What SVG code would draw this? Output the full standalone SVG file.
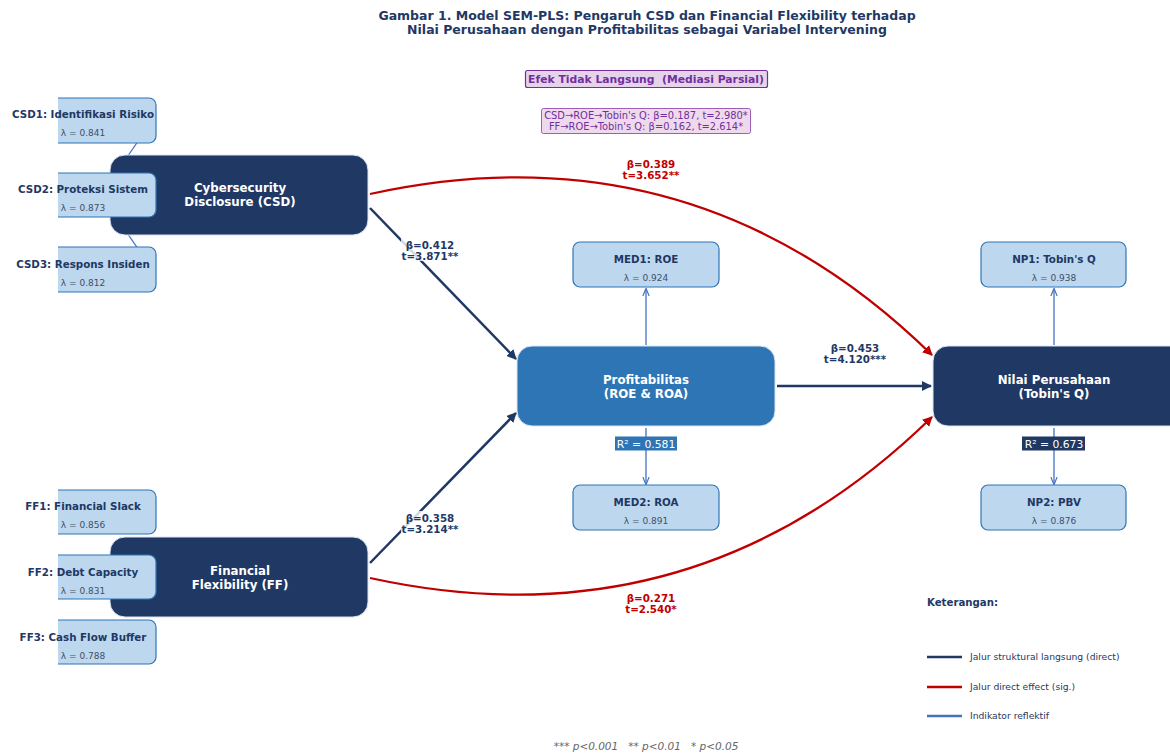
<svg xmlns="http://www.w3.org/2000/svg" width="1170" height="753" viewBox="0 0 1170 753">
<style>
text{font-family:"DejaVu Sans","Liberation Sans",sans-serif}
.title{font-size:12.5px;font-weight:bold;fill:#1f3864;text-anchor:middle}
.ind{fill:#bdd7ee;stroke:#2e75b6;stroke-width:1.2}
.indt{font-size:10.3px;font-weight:bold;fill:#1f3864;text-anchor:middle}
.lam{font-size:9px;fill:#404f66;text-anchor:middle}
.lat{stroke:#dae3f3;stroke-width:1}
.latt{font-size:11.8px;font-weight:bold;fill:#ffffff;text-anchor:middle}
.str{stroke:#1f3864;stroke-width:2.5;fill:none}
.red{stroke:#c00000;stroke-width:2.3;fill:none}
.refl{stroke:#4472c4;stroke-width:1.3;fill:none}
.lbl{font-size:10.3px;font-weight:bold;fill:#1f3864;text-anchor:middle}
.rlbl{font-size:10.3px;font-weight:bold;fill:#c00000;text-anchor:middle}
.pur{fill:#7030a0}
.leg{font-size:9.2px;fill:#1f3864}
</style>
<defs>
<marker id="an" viewBox="0 0 10 10" refX="9" refY="5" markerWidth="4" markerHeight="4" orient="auto" markerUnits="strokeWidth"><path d="M0,0 L10,5 L0,10 z" fill="#1f3864"/></marker>
<marker id="ar" viewBox="0 0 10 10" refX="9" refY="5" markerWidth="4.4" markerHeight="4.4" orient="auto" markerUnits="strokeWidth"><path d="M0,0 L10,5 L0,10 z" fill="#c00000"/></marker>
<marker id="ab" viewBox="0 0 10 10" refX="9" refY="5" markerWidth="6" markerHeight="6" orient="auto" markerUnits="strokeWidth"><path d="M0,1 L10,5 L0,9" fill="none" stroke="#4472c4" stroke-width="1.5"/></marker>
<clipPath id="clipL"><rect x="58" y="0" width="200" height="753"/></clipPath>
</defs>
<rect width="1170" height="753" fill="#ffffff"/>

<text class="title" x="647" y="19.5">Gambar 1. Model SEM-PLS: Pengaruh CSD dan Financial Flexibility terhadap</text>
<text class="title" x="647" y="33.5">Nilai Perusahaan dengan Profitabilitas sebagai Variabel Intervening</text>

<g id="connectors">
<line class="refl" x1="123" y1="163" x2="143" y2="134"/>
<line class="refl" x1="123" y1="227" x2="143" y2="256"/>
<path class="str" d="M370,208 L516,359" marker-end="url(#an)"/>
<path class="str" d="M370,563 L516,413" marker-end="url(#an)"/>
<path class="str" d="M777,386 L931,386" marker-end="url(#an)"/>
<path class="red" d="M370,194 Q695,123 932,355" marker-end="url(#ar)"/>
<path class="red" d="M370,578 Q695,649 932,417" marker-end="url(#ar)"/>
<path class="refl" d="M646,345 L646,289" marker-end="url(#ab)"/>
<path class="refl" d="M646,428 L646,484" marker-end="url(#ab)"/>
<path class="refl" d="M1054,345 L1054,289" marker-end="url(#ab)"/>
<path class="refl" d="M1054,428 L1054,484" marker-end="url(#ab)"/>
</g>

<g id="edge-labels">
<rect x="401" y="238" width="58" height="23" fill="#ffffff" fill-opacity="0.8"/>
<text class="lbl" x="430" y="248.5">β=0.412</text>
<text class="lbl" x="430" y="259.5">t=3.871**</text>
<rect x="401" y="511" width="58" height="23" fill="#ffffff" fill-opacity="0.8"/>
<text class="lbl" x="430" y="521.5">β=0.358</text>
<text class="lbl" x="430" y="532.5">t=3.214**</text>
<text class="lbl" x="855" y="351.5">β=0.453</text>
<text class="lbl" x="855" y="362.5">t=4.120***</text>
<text class="rlbl" x="651" y="167.5">β=0.389</text>
<text class="rlbl" x="651" y="178.5">t=3.652**</text>
<text class="rlbl" x="651" y="601.5">β=0.271</text>
<text class="rlbl" x="651" y="612.5">t=2.540*</text>
</g>

<g id="csd">
<rect class="lat" x="110" y="155" width="258" height="80" rx="15" fill="#1f3864"/>
<text class="latt" x="240" y="192">Cybersecurity</text>
<text class="latt" x="240" y="205.5">Disclosure (CSD)</text>
</g>
<g id="ff">
<rect class="lat" x="110" y="537" width="258" height="80" rx="15" fill="#1f3864"/>
<text class="latt" x="240" y="575">Financial</text>
<text class="latt" x="240" y="588.5">Flexibility (FF)</text>
</g>
<g id="profit">
<rect class="lat" x="517" y="346" width="258" height="80" rx="15" fill="#2e75b6"/>
<text class="latt" x="646" y="384">Profitabilitas</text>
<text class="latt" x="646" y="397.5">(ROE &amp; ROA)</text>
</g>
<g id="np">
<rect class="lat" x="933" y="346" width="258" height="80" rx="15" fill="#1f3864"/>
<text class="latt" x="1054" y="384">Nilai Perusahaan</text>
<text class="latt" x="1054" y="397.5">(Tobin's Q)</text>
</g>

<g id="csd1">
<rect class="ind" x="10" y="98" width="146" height="45" rx="7" clip-path="url(#clipL)"/>
<text class="indt" x="83" y="118">CSD1: Identifikasi Risiko</text>
<text class="lam" x="83" y="136">λ = 0.841</text>
</g>
<g id="csd2">
<rect class="ind" x="10" y="173" width="146" height="44" rx="7" clip-path="url(#clipL)"/>
<text class="indt" x="83" y="193">CSD2: Proteksi Sistem</text>
<text class="lam" x="83" y="211">λ = 0.873</text>
</g>
<g id="csd3">
<rect class="ind" x="10" y="247" width="146" height="45" rx="7" clip-path="url(#clipL)"/>
<text class="indt" x="83" y="267.5">CSD3: Respons Insiden</text>
<text class="lam" x="83" y="285.5">λ = 0.812</text>
</g>
<g id="ff1">
<rect class="ind" x="10" y="490" width="146" height="44" rx="7" clip-path="url(#clipL)"/>
<text class="indt" x="83" y="509.5">FF1: Financial Slack</text>
<text class="lam" x="83" y="528">λ = 0.856</text>
</g>
<g id="ff2">
<rect class="ind" x="10" y="555" width="146" height="44" rx="7" clip-path="url(#clipL)"/>
<text class="indt" x="83" y="575.5">FF2: Debt Capacity</text>
<text class="lam" x="83" y="593.5">λ = 0.831</text>
</g>
<g id="ff3">
<rect class="ind" x="10" y="620" width="146" height="44" rx="7" clip-path="url(#clipL)"/>
<text class="indt" x="83" y="640.5">FF3: Cash Flow Buffer</text>
<text class="lam" x="83" y="658.5">λ = 0.788</text>
</g>
<g id="med1">
<rect class="ind" x="573" y="242" width="146" height="45" rx="7"/>
<text class="indt" x="646" y="262.5">MED1: ROE</text>
<text class="lam" x="646" y="281">λ = 0.924</text>
</g>
<g id="med2">
<rect class="ind" x="573" y="485" width="146" height="45" rx="7"/>
<text class="indt" x="646" y="505.5">MED2: ROA</text>
<text class="lam" x="646" y="523.5">λ = 0.891</text>
</g>
<g id="np1">
<rect class="ind" x="981" y="242" width="145" height="45" rx="7"/>
<text class="indt" x="1054" y="262.5">NP1: Tobin's Q</text>
<text class="lam" x="1054" y="281">λ = 0.938</text>
</g>
<g id="np2">
<rect class="ind" x="981" y="485" width="145" height="45" rx="7"/>
<text class="indt" x="1054" y="505.5">NP2: PBV</text>
<text class="lam" x="1054" y="523.5">λ = 0.876</text>
</g>

<g id="r2">
<rect x="615" y="436.5" width="62" height="14" fill="#2e75b6"/>
<text x="646" y="447.5" font-size="10.8" fill="#ffffff" text-anchor="middle">R² = 0.581</text>
<rect x="1022" y="436.5" width="63" height="14" fill="#1f3864"/>
<text x="1054" y="447.5" font-size="10.8" fill="#ffffff" text-anchor="middle">R² = 0.673</text>
</g>

<g id="indirect">
<rect x="525.5" y="70.5" width="242" height="17" rx="2" fill="#e6d3ea" stroke="#7030a0" stroke-width="1.2"/>
<text class="pur" x="646" y="82.5" font-size="10.8" font-weight="bold" text-anchor="middle" xml:space="preserve">Efek Tidak Langsung  (Mediasi Parsial)</text>
<rect x="541.5" y="108.5" width="209" height="25" rx="2" fill="#efd9ec" stroke="#9c5fb5" stroke-width="1"/>
<text class="pur" x="646" y="118.5" font-size="9.9" text-anchor="middle">CSD→ROE→Tobin's Q: β=0.187, t=2.980*</text>
<text class="pur" x="646" y="129.5" font-size="9.9" text-anchor="middle">FF→ROE→Tobin's Q: β=0.162, t=2.614*</text>
</g>

<g id="legend">
<text x="927" y="605.5" font-size="10.2" font-weight="bold" fill="#1f3864">Keterangan:</text>
<line x1="927" y1="657" x2="962" y2="657" stroke="#1f3864" stroke-width="2.5"/>
<text class="leg" x="970" y="660">Jalur struktural langsung (direct)</text>
<line x1="927" y1="687" x2="962" y2="687" stroke="#c00000" stroke-width="2.5"/>
<text class="leg" x="970" y="690">Jalur direct effect (sig.)</text>
<line x1="927" y1="716" x2="962" y2="716" stroke="#4472c4" stroke-width="2.5"/>
<text class="leg" x="970" y="719">Indikator reflektif</text>
</g>

<text x="646" y="750" font-size="10.5" font-style="italic" fill="#666666" text-anchor="middle" xml:space="preserve">*** p&lt;0.001   ** p&lt;0.01   * p&lt;0.05</text>
</svg>
